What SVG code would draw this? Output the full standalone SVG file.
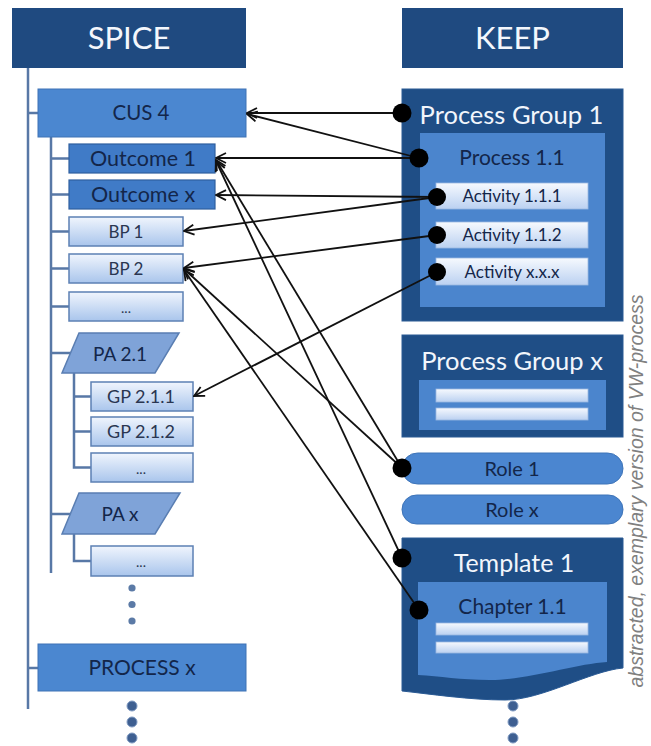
<svg xmlns="http://www.w3.org/2000/svg" width="651" height="746" viewBox="0 0 651 746">
  <defs>
    <linearGradient id="lightFill" x1="0" y1="0" x2="0" y2="1">
      <stop offset="0" stop-color="#F0F5FD"/>
      <stop offset="1" stop-color="#A9C5EC"/>
    </linearGradient>
    <linearGradient id="barFill" x1="0" y1="0" x2="0" y2="1">
      <stop offset="0" stop-color="#F6F9FE"/>
      <stop offset="1" stop-color="#BBD1F1"/>
    </linearGradient>
    <marker id="arrow" viewBox="0 0 12 12" refX="11" refY="6" markerWidth="12" markerHeight="12" orient="auto" markerUnits="userSpaceOnUse">
      <path d="M1,1 L11,6 L1,11" fill="none" stroke="#111" stroke-width="1.8"/>
    </marker>
    <style>
      .hdr { fill: #1F4A80; }
      .hdrText { font-family: Lato, "Open Sans", sans-serif; font-size: 31px; fill: #F4F7FC; text-anchor: middle; }
      .tree { fill: none; stroke: #5878A6; stroke-width: 2.5; }
      .proc { fill: #4B87D0; stroke: #3F73B5; stroke-width: 1; }
      .outc { fill: #407BC7; stroke: #2F5F9F; stroke-width: 1.2; }
      .light { fill: url(#lightFill); stroke: #5C80B4; stroke-width: 1.5; }
      .pa { fill: #7FA3D8; stroke: #5A7EB2; stroke-width: 1.5; }
      .lbl { font-family: Lato, "Open Sans", sans-serif; fill: #13264A; text-anchor: middle; }
      .lblGray { font-family: Lato, "Open Sans", sans-serif; fill: #2A3651; text-anchor: middle; }
      .keepOuter { fill: #1F4E86; stroke: #2A5A94; stroke-width: 1; }
      .keepInner { fill: #4B85CD; }
      .bar { fill: url(#barFill); stroke: #9CB8E2; stroke-width: 0.8; }
      .white { font-family: Lato, "Open Sans", sans-serif; fill: #F2F6FC; text-anchor: middle; }
      .pill { fill: #4B86D0; stroke: #3E74B8; stroke-width: 1; }
      .dotSmall { fill: #5B7AA6; }
      .dotBig { fill: #3E5F91; stroke: #7F9AC2; stroke-width: 1; }
      .link { fill: none; stroke: #111; stroke-width: 1.8; marker-end: url(#arrow); }
      .anchor { fill: #000; }
    </style>
  </defs>

  <rect width="651" height="746" fill="#FFFFFF"/>

  <!-- SPICE column -->
  <g id="spice-header">
    <rect class="hdr" x="12" y="8" width="234" height="60"/>
    <text class="hdrText" x="129" y="49">SPICE</text>
  </g>

  <!-- hierarchy lines of the SPICE tree -->
  <g id="spice-tree">
    <path class="tree" d="M28,68 V709 M28,113 H38 M28,668 H38"/>
    <path class="tree" d="M51,137 V573 M51,158.5 H69 M51,194.5 H69 M51,231.5 H69 M51,268.5 H69 M51,306.5 H69 M51,353 H71 M51,514 H71"/>
    <path class="tree" d="M74,373 V467.5 H91 M74,396.5 H91 M74,431.5 H91"/>
    <path class="tree" d="M74,534 V561 H91"/>
  </g>

  <g id="cus4">
    <rect class="proc" x="38" y="89" width="208" height="48"/>
    <text class="lbl" x="141" y="120" font-size="20.5">CUS 4</text>
  </g>
  <g id="outcome-1">
    <rect class="outc" x="69" y="144" width="146" height="29"/>
    <text class="lbl" x="143" y="166" font-size="21.5">Outcome 1</text>
  </g>
  <g id="outcome-x">
    <rect class="outc" x="69" y="180" width="146" height="29"/>
    <text class="lbl" x="143" y="202" font-size="21.5">Outcome x</text>
  </g>
  <g id="bp-1">
    <rect class="light" x="69" y="217" width="114" height="29"/>
    <text class="lblGray" x="126" y="238" font-size="17">BP 1</text>
  </g>
  <g id="bp-2">
    <rect class="light" x="69" y="254" width="114" height="29"/>
    <text class="lblGray" x="126" y="275" font-size="17">BP 2</text>
  </g>
  <g id="bp-more">
    <rect class="light" x="69" y="292" width="114" height="29"/>
    <text class="lblGray" x="126" y="313" font-size="14">...</text>
  </g>
  <g id="pa-2-1">
    <polygon class="pa" points="79,333 179,333 155,373 62,373"/>
    <text class="lbl" x="120" y="360.5" font-size="19">PA 2.1</text>
  </g>
  <g id="gp-2-1-1">
    <rect class="light" x="91" y="382" width="102" height="29"/>
    <text class="lblGray" x="141" y="403" font-size="18">GP 2.1.1</text>
  </g>
  <g id="gp-2-1-2">
    <rect class="light" x="91" y="417" width="102" height="29"/>
    <text class="lblGray" x="141" y="438" font-size="18">GP 2.1.2</text>
  </g>
  <g id="gp-2-1-more">
    <rect class="light" x="91" y="453" width="102" height="29"/>
    <text class="lblGray" x="141" y="474" font-size="14">...</text>
  </g>
  <g id="pa-x">
    <polygon class="pa" points="79,493 180,493 155,534 62,534"/>
    <text class="lbl" x="120" y="520.5" font-size="19">PA x</text>
  </g>
  <g id="gp-x-more">
    <rect class="light" x="91" y="546" width="102" height="30"/>
    <text class="lblGray" x="141" y="567" font-size="14">...</text>
  </g>
  <g id="spice-ellipsis-inner">
    <circle class="dotSmall" cx="132" cy="588" r="3.6"/>
    <circle class="dotSmall" cx="132" cy="604.5" r="3.6"/>
    <circle class="dotSmall" cx="132" cy="621" r="3.6"/>
  </g>
  <g id="process-x">
    <rect class="proc" x="38" y="644" width="208" height="47"/>
    <text class="lbl" x="142" y="675" font-size="21">PROCESS x</text>
  </g>
  <g id="spice-ellipsis">
    <circle class="dotBig" cx="132" cy="706" r="5"/>
    <circle class="dotBig" cx="132" cy="722" r="5"/>
    <circle class="dotBig" cx="132" cy="738" r="5"/>
  </g>

  <!-- KEEP column -->
  <g id="keep-header">
    <rect class="hdr" x="402" y="8" width="221" height="60"/>
    <text class="hdrText" x="512.5" y="49">KEEP</text>
  </g>
  <g id="process-group-1">
    <rect class="keepOuter" x="402" y="89" width="221" height="232"/>
    <text class="white" x="511.5" y="124" font-size="25.5">Process Group 1</text>
    <rect class="keepInner" x="420" y="133" width="185" height="174"/>
    <text class="lbl" x="512" y="164.5" font-size="21">Process 1.1</text>
  </g>
  <g id="activity-1-1-1">
    <rect class="bar" x="436" y="183" width="152" height="26"/>
    <text class="lbl" x="512" y="202" font-size="17">Activity 1.1.1</text>
  </g>
  <g id="activity-1-1-2">
    <rect class="bar" x="436" y="222" width="152" height="26"/>
    <text class="lbl" x="512" y="241" font-size="17">Activity 1.1.2</text>
  </g>
  <g id="activity-x-x-x">
    <rect class="bar" x="436" y="258" width="152" height="27"/>
    <text class="lbl" x="512" y="277.5" font-size="17">Activity x.x.x</text>
  </g>
  <g id="process-group-x">
    <rect class="keepOuter" x="402" y="335" width="221" height="102"/>
    <text class="white" x="512" y="370" font-size="25.5">Process Group x</text>
    <rect class="keepInner" x="419" y="380" width="187" height="50"/>
    <rect class="bar" x="436" y="389" width="152" height="13"/>
    <rect class="bar" x="436" y="408" width="152" height="12"/>
  </g>
  <g id="role-1">
    <rect class="pill" x="402" y="453" width="221" height="31" rx="15.5"/>
    <text class="lbl" x="512" y="475.5" font-size="20">Role 1</text>
  </g>
  <g id="role-x">
    <rect class="pill" x="402" y="495" width="221" height="29" rx="14.5"/>
    <text class="lbl" x="512" y="517" font-size="20">Role x</text>
  </g>
  <g id="template-1">
    <path class="keepOuter" d="M402,538 H623 V668 C590,671 542,700 505,700 C470,700 430,694 402,691 Z"/>
    <text class="white" x="514" y="571.5" font-size="25">Template 1</text>
    <path class="keepInner" d="M418,582 H607 V662 C575,664 528,680 490,680 C460,680 440,676 418,675 Z"/>
    <text class="lbl" x="512.5" y="613.5" font-size="21">Chapter 1.1</text>
    <rect class="bar" x="436" y="623" width="152" height="12"/>
    <rect class="bar" x="436" y="642" width="152" height="11"/>
  </g>
  <g id="keep-ellipsis">
    <circle class="dotBig" cx="513" cy="706" r="5"/>
    <circle class="dotBig" cx="513" cy="722" r="5"/>
    <circle class="dotBig" cx="513" cy="738" r="5"/>
  </g>

  <!-- mapping links: from KEEP elements to SPICE elements -->
  <g id="connectors">
    <line class="link" x1="402" y1="113" x2="247" y2="113"/>
    <line class="link" x1="419" y1="158" x2="247" y2="114"/>
    <line class="link" x1="419" y1="158" x2="216" y2="158"/>
    <line class="link" x1="437" y1="197" x2="216" y2="195"/>
    <line class="link" x1="437" y1="197" x2="184" y2="231"/>
    <line class="link" x1="437" y1="235" x2="184" y2="268"/>
    <line class="link" x1="437" y1="272" x2="194" y2="396"/>
    <line class="link" x1="402" y1="468" x2="216" y2="160"/>
    <line class="link" x1="402" y1="468" x2="184" y2="269"/>
    <line class="link" x1="402" y1="558" x2="216" y2="161"/>
    <line class="link" x1="419" y1="610" x2="184" y2="270"/>
    <circle class="anchor" cx="402" cy="113" r="9.5"/>
    <circle class="anchor" cx="419" cy="158" r="9.5"/>
    <circle class="anchor" cx="437" cy="197" r="9"/>
    <circle class="anchor" cx="437" cy="235" r="9"/>
    <circle class="anchor" cx="437" cy="272" r="9"/>
    <circle class="anchor" cx="402" cy="468" r="9.5"/>
    <circle class="anchor" cx="402" cy="558" r="9.5"/>
    <circle class="anchor" cx="419" cy="610" r="9.5"/>
  </g>

  <text x="0" y="0" transform="translate(643,491) rotate(-90)" font-family="'Liberation Sans', Arial, sans-serif" font-style="italic" font-size="19.5" fill="#808080" text-anchor="middle">abstracted, exemplary version of VW-process</text>
</svg>
